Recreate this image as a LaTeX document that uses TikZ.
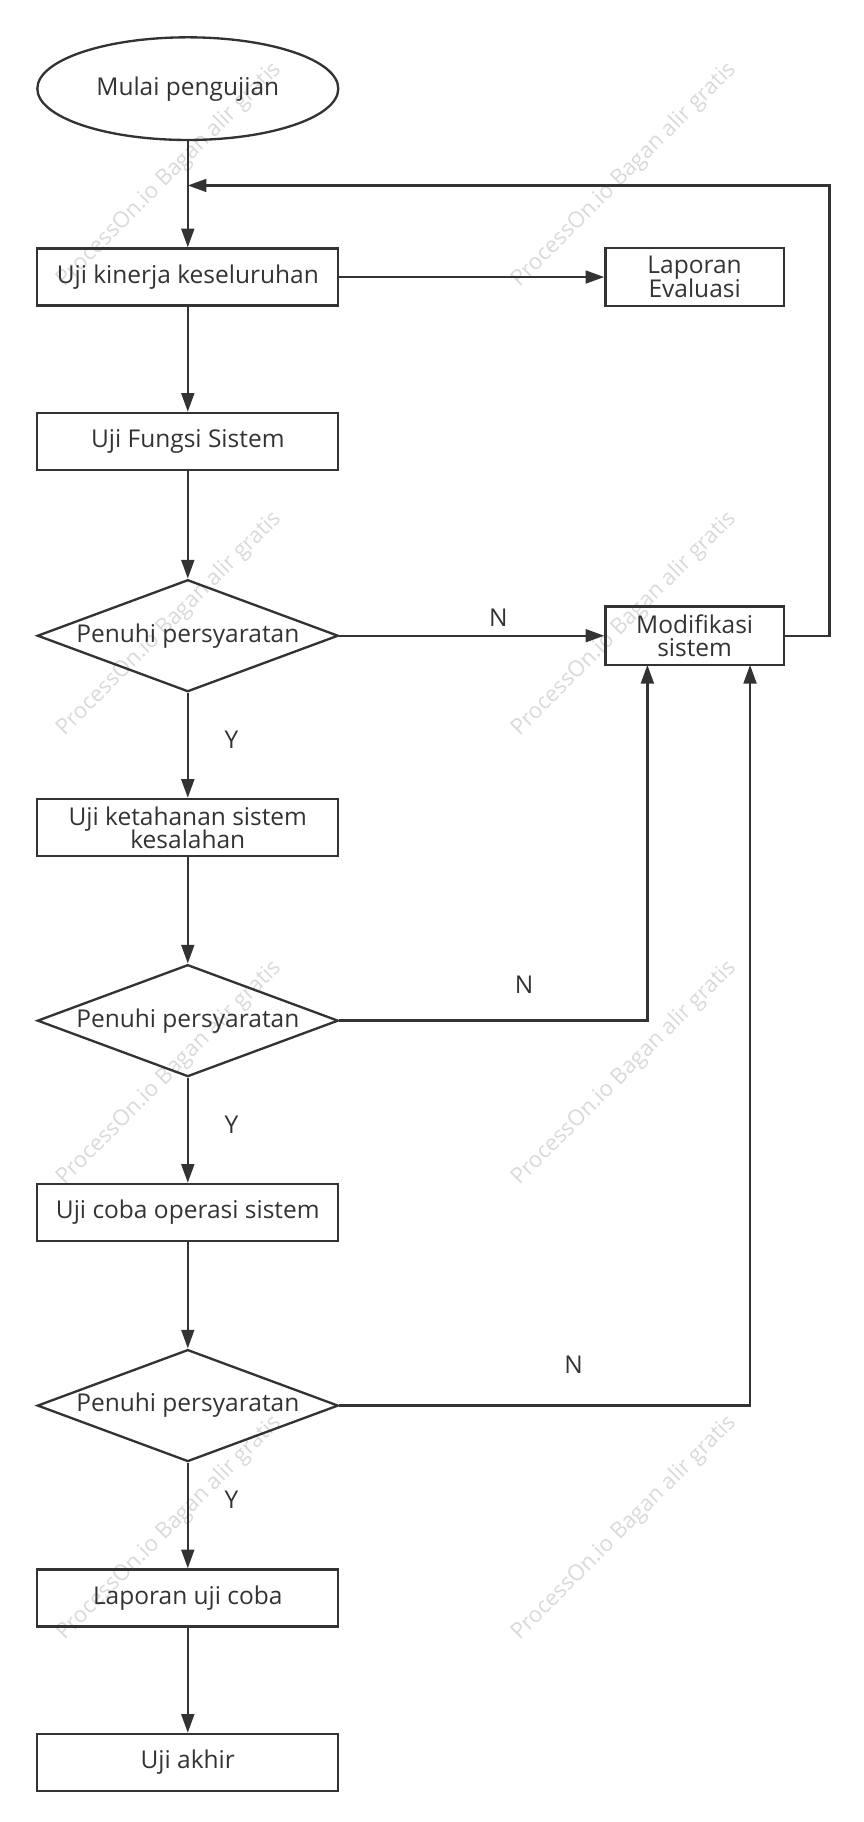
\documentclass[tikz,border=0pt]{standalone}
\usepackage{fontspec}
\setmainfont{Open Sans}
\usetikzlibrary{shapes.geometric,arrows.meta}
\definecolor{ln}{HTML}{333333}
\begin{document}
\begin{tikzpicture}[x=0.5pt,y=-0.5pt,
  box/.style={draw=ln,line width=1pt,rectangle,minimum width=129pt,minimum height=24.5pt,inner sep=1pt,align=center,font=\fontsize{10.5}{11}\selectfont,text=ln},
  sbox/.style={box,minimum width=76.5pt,minimum height=25pt},
  dia/.style={draw=ln,line width=1pt,diamond,minimum width=129pt,minimum height=48pt,inner sep=0pt,aspect=2.7,font=\fontsize{10.5}{11}\selectfont,text=ln},
  arr/.style={draw=ln,line width=1pt,-{Triangle[length=8pt,width=5.5pt]}},
  lab/.style={font=\fontsize{10.5}{11}\selectfont,text=ln},
  wm/.style={rotate=45,text=black!15,font=\fontsize{9.5}{10}\selectfont}]
\useasboundingbox (0,0) rectangle (740,1562);
\foreach \cx/\cy in {145/150,535/150,145/535,535/535,145/920,535/920,145/1310,535/1310}
  \node[wm] at (\cx,\cy) {ProcessOn.io Bagan alir gratis};
\node[draw=ln,line width=1pt,ellipse,minimum width=129pt,minimum height=44pt,font=\fontsize{10.5}{11}\selectfont,text=ln] (s) at (161,76) {Mulai pengujian};
\node[box] (b1) at (161,237.5) {Uji kinerja keseluruhan};
\node[sbox] (le) at (595.5,237.5) {Laporan\\[-1pt]Evaluasi};
\node[box] (b2) at (161,378.5) {Uji Fungsi Sistem};
\node[dia] (d1) at (161,545) {Penuhi persyaratan};
\node[sbox] (mod) at (595.5,545) {Modifikasi\\[-1pt]sistem};
\node[box] (b3) at (161,709.5) {Uji ketahanan sistem\\[-1pt]kesalahan};
\node[dia] (d2) at (161,875) {Penuhi persyaratan};
\node[box] (b4) at (161,1039.5) {Uji coba operasi sistem};
\node[dia] (d3) at (161,1205) {Penuhi persyaratan};
\node[box] (b5) at (161,1370) {Laporan uji coba};
\node[box] (b6) at (161,1511) {Uji akhir};
\coordinate (top) at (161,159);
\draw[line width=1pt,draw=ln] (s) -- (top);
\draw[arr] (top) -- (b1);
\draw[arr] (b1) -- (le);
\draw[arr] (b1) -- (b2);
\draw[arr] (b2) -- (d1);
\draw[arr] (d1) -- node[lab,pos=0.6,above]{N} (mod);
\draw[arr] (d1) -- node[lab,pos=0.45,right=12pt]{Y} (b3);
\draw[arr] (b3) -- (d2);
\draw[arr] (d2.east) -- node[lab,pos=0.6,above=8pt]{N} (555,875) -- (555,570);
\draw[arr] (d2) -- node[lab,pos=0.45,right=12pt]{Y} (b4);
\draw[arr] (b4) -- (d3);
\draw[arr] (d3.east) -- node[lab,pos=0.57,above=10pt]{N} (643,1205) -- (643,570);
\draw[arr] (d3) -- node[lab,pos=0.35,right=12pt]{Y} (b5);
\draw[arr] (b5) -- (b6);
\draw[arr] (mod.east) -- (711,545) -- (711,159) -- (top);
\end{tikzpicture}
\end{document}
